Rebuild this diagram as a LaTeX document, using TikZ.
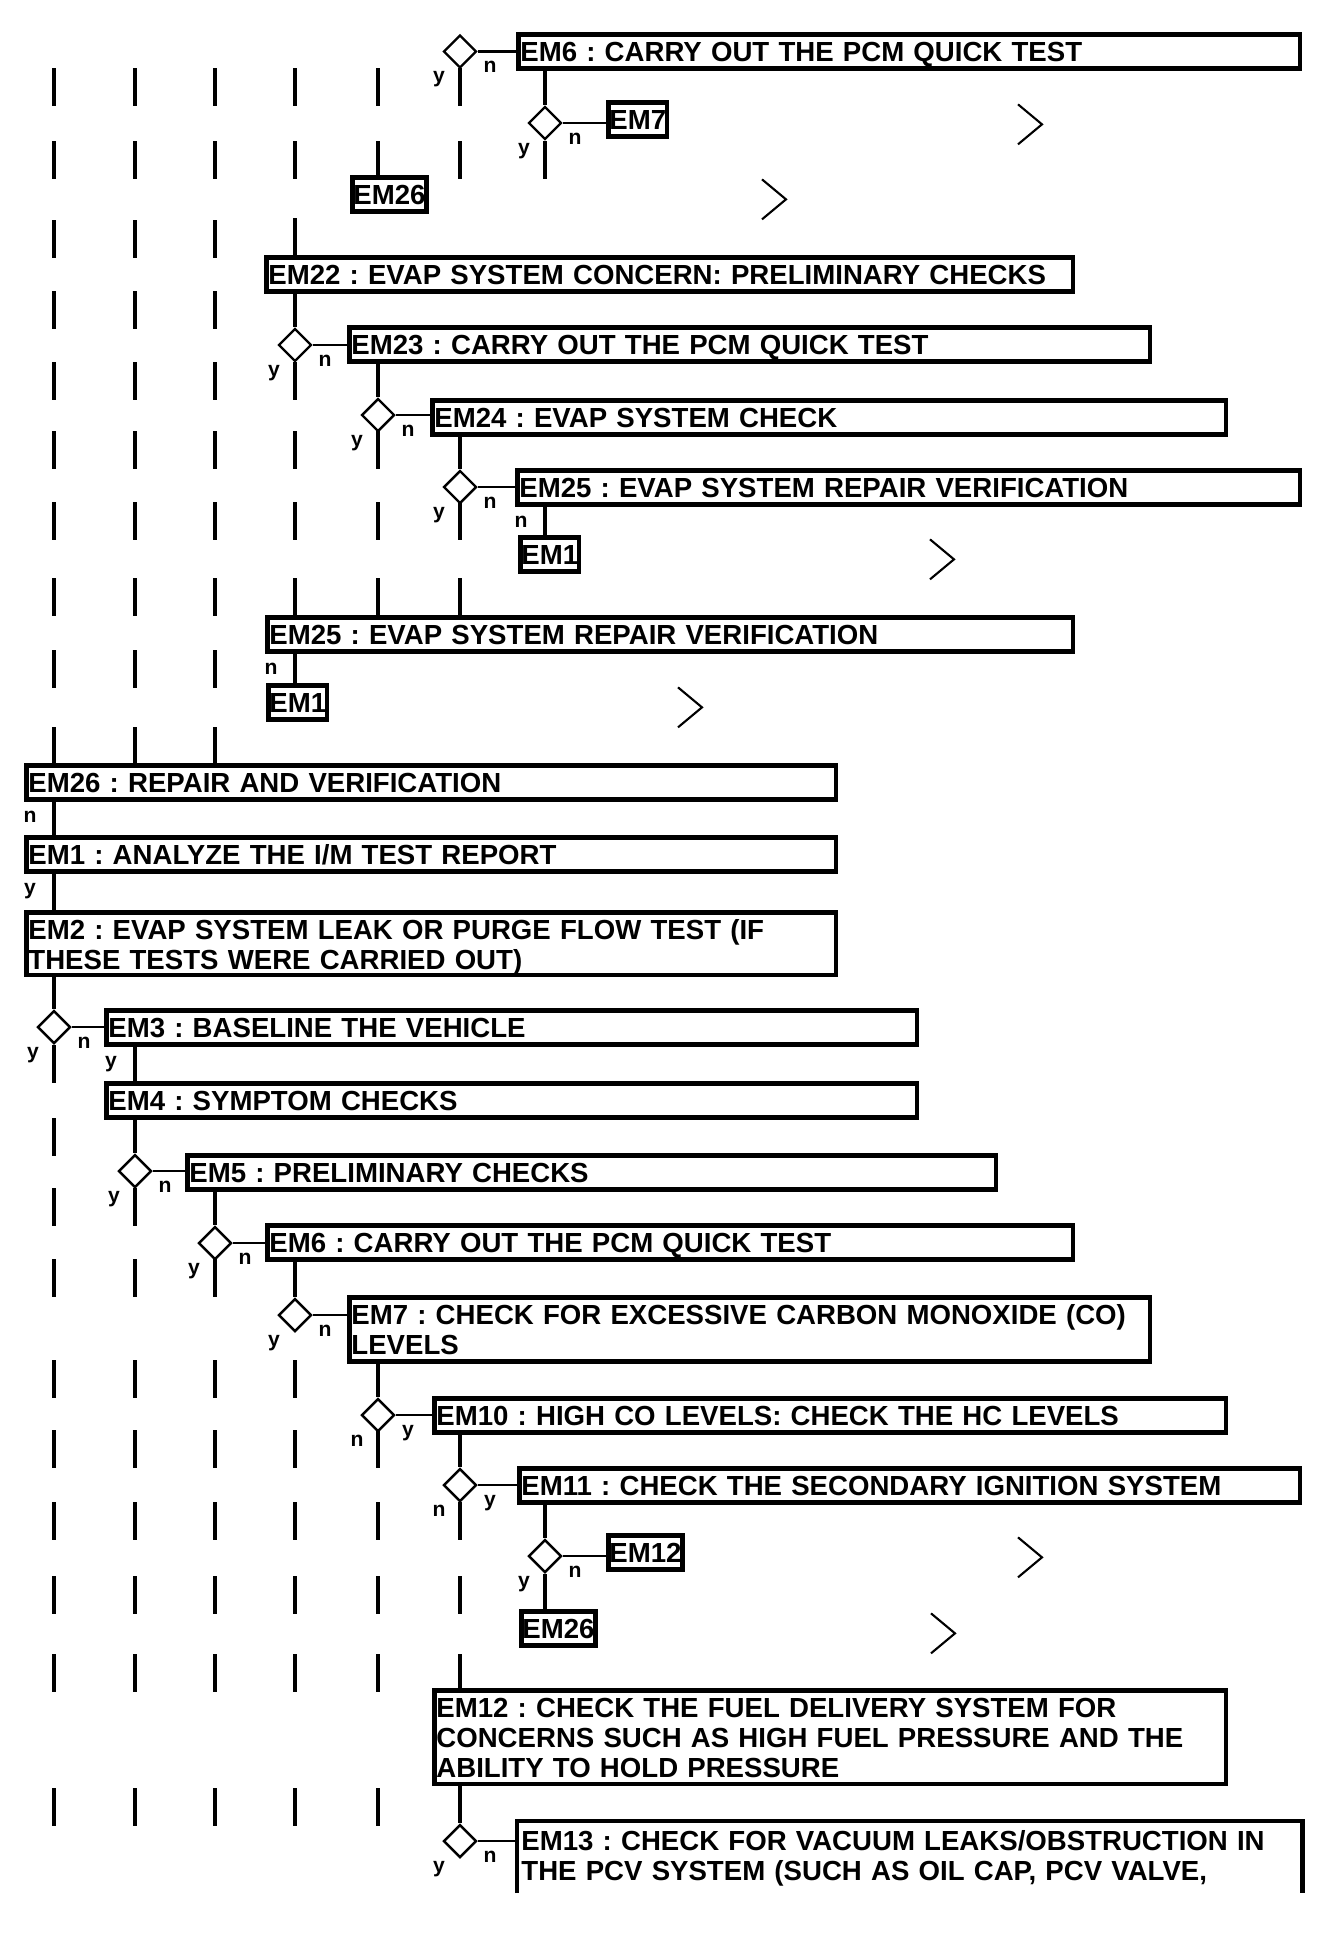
\documentclass[tikz,border=0pt]{standalone}
\usepackage{fontspec}
\setmainfont{Liberation Sans}
\usepackage{tikz}
\usetikzlibrary{shapes.geometric}
\frenchspacing

\begin{document}
\begin{tikzpicture}[x=0.01cm,y=-0.01cm,
    box/.style={draw,line width=1.3pt,anchor=north west,inner xsep=0.6pt,inner ysep=2pt,
      text height=5.7pt,text depth=0pt,align=left,
      font=\fontsize{7.85}{8.5}\selectfont\bfseries},
    tag/.style={box,inner xsep=0.3pt,align=center},
    dia/.style={draw,diamond,aspect=1,minimum size=0.33cm,inner sep=0pt,line width=0.7pt,fill=white},
    lnk/.style={line width=1.25pt},
    hlnk/.style={line width=0.75pt},
    chev/.style={line width=0.6pt},
    lab/.style={anchor=base,inner sep=0pt,font=\fontsize{6}{6}\selectfont\bfseries}]
    \useasboundingbox (0,0) rectangle (1328,1936);
    \foreach \i/\x in {0/54,1/135,2/215,3/295,4/378,5/460,6/545}
      \coordinate (c\i) at (\x,0);
    \foreach \y/\cl in {68/{0,1,2,3,4,5},141/{0,1,2,3,5,6},220/{0,1,2},291/{0,1,2},
        362/{0,1,2,3},431/{0,1,2,3,4},502/{0,1,2,3,4,5},578/{0,1,2},650/{0,1,2},
        1045/{0},1118/{0},1188/{0,1},1259/{0,1,2},1360/{0,1,2,3},1430/{0,1,2,3,4},
        1502/{0,1,2,3,4,5},1576/{0,1,2,3,4,5},1654/{0,1,2,3,4},1788/{0,1,2,3,4}}
      \foreach \c in \cl
        \draw[lnk] (c\c) ++(0,\y) -- ++(0,38);

    \node[box,text width=7.77cm] (em6a) at (516,32) {EM6 : CARRY OUT THE PCM QUICK TEST};
    \node[tag] (em7t) at (606,100) {EM7};
    \node[tag] (em26t) at (350,175) {EM26};
    \node[box,text width=8.02cm] (em22) at (264,255) {EM22 : EVAP SYSTEM CONCERN: PRELIMINARY CHECKS};
    \node[box,text width=7.96cm] (em23) at (347,325) {EM23 : CARRY OUT THE PCM QUICK TEST};
    \node[box,text width=7.89cm] (em24) at (430,398) {EM24 : EVAP SYSTEM CHECK};
    \node[box,text width=7.78cm] (em25a) at (515,468) {EM25 : EVAP SYSTEM REPAIR VERIFICATION};
    \node[tag] (em1t) at (518,535) {EM1};
    \node[box,text width=8.01cm] (em25b) at (265,615) {EM25 : EVAP SYSTEM REPAIR VERIFICATION};
    \node[tag] (em1u) at (266,683) {EM1};
    \node[box,text width=8.05cm] (em26) at (24,763) {EM26 : REPAIR AND VERIFICATION};
    \node[box,text width=8.05cm] (em1) at (24,835) {EM1 : ANALYZE THE I/M TEST REPORT};
    \node[box,text width=8.05cm,text depth=8.1pt] (em2) at (24,910)
      {EM2 : EVAP SYSTEM LEAK OR PURGE FLOW TEST (IF\\THESE TESTS WERE CARRIED OUT)};
    \node[box,text width=8.06cm] (em3) at (104,1008) {EM3 : BASELINE THE VEHICLE};
    \node[box,text width=8.06cm] (em4) at (104,1081) {EM4 : SYMPTOM CHECKS};
    \node[box,text width=8.04cm] (em5) at (185,1153) {EM5 : PRELIMINARY CHECKS};
    \node[box,text width=8.01cm] (em6b) at (265,1223) {EM6 : CARRY OUT THE PCM QUICK TEST};
    \node[box,text width=7.96cm,text depth=8.5pt] (em7) at (347,1295)
      {EM7 : CHECK FOR EXCESSIVE CARBON MONOXIDE (CO)\\LEVELS};
    \node[box,text width=7.87cm] (em10) at (432,1396) {EM10 : HIGH CO LEVELS: CHECK THE HC LEVELS};
    \node[box,text width=7.76cm] (em11) at (517,1466) {EM11 : CHECK THE SECONDARY IGNITION SYSTEM};
    \node[tag] (em12t) at (606,1533) {EM12};
    \node[tag] (em26u) at (519,1609) {EM26};
    \node[box,text width=7.87cm,text depth=17pt] (em12) at (432,1688)
      {EM12 : CHECK THE FUEL DELIVERY SYSTEM FOR\\CONCERNS SUCH AS HIGH FUEL PRESSURE AND THE\\ABILITY TO HOLD PRESSURE};
    \node[box,draw=none,text width=7.76cm,text depth=9.5pt] (em13) at (517,1821)
      {EM13 : CHECK FOR VACUUM LEAKS/OBSTRUCTION IN\\THE PCV SYSTEM (SUCH AS OIL CAP, PCV VALVE,};
    \draw[line width=1.3pt] (em13.south west) -- (em13.north west) -- (em13.north east) -- (em13.south east);

    \draw[lnk] (em26t.north -| c4) -- ++(0,-34);
    \draw[lnk] (em22.north -| c3) -- ++(0,-37);
    \foreach \c in {3,4,5}
      \draw[lnk] (em25b.north -| c\c) -- ++(0,-37);
    \foreach \c in {0,1,2}
      \draw[lnk] (em26.north -| c\c) -- ++(0,-36);
    \draw[lnk] (em12.north -| c5) -- ++(0,-34);

    \foreach \nm/\x/\y/\l/\r in {d1/460/51.5/y/n,d2/545/123/y/n,d3/295/345/y/n,d4/378/415/y/n,
        d5/460/487/y/n,d6/54/1027/y/n,d7/135/1171/y/n,d8/215/1243/y/n,d9/295/1315/y/n,
        d10/378/1415/n/y,d11/460/1485/n/y,d12/545/1556/y/n,d13/460/1841/y/n} {
      \node[dia] (\nm) at (\x,\y) {};
      \node[lab] (\nm l) at (\x-21,\y+31) {\l};
      \node[lab] (\nm r) at (\x+30,\y+21) {\r};
    }

    \foreach \a/\b in {d1/em6a,d2/em7t,d3/em23,d4/em24,d5/em25a,d6/em3,d7/em5,d8/em6b,
        d9/em7,d10/em10,d11/em11,d12/em12t,d13/em13}
      \draw[hlnk] (\a.east) -- (\a.east -| \b.west);

    \foreach \a/\b/\c/\t in {em6a/d2/6/,em22/d3/3/,em23/d4/4/,em24/d5/5/,em25a/em1t/6/n,
        em25b/em1u/3/n,em26/em1/0/n,em1/em2/0/y,em2/d6/0/,em3/em4/1/y,em4/d7/1/,em5/d8/2/,
        em6b/d9/3/,em7/d10/4/,em10/d11/5/,em11/d12/6/,d12/em26u/6/,em12/d13/5/}
      \draw[lnk] (\a.south -| c\c) node[lab,xshift=-0.24cm,yshift=-0.21cm] (\a v) {\t}
        -- (\b.north -| c\c);

    \foreach \t in {em7t,em26t,em1t,em1u,em12t,em26u}
      \draw[chev] (\t.west) ++(412,-15) -- ++(24,20) -- ++(-24,20);
  \end{tikzpicture}
\end{document}
